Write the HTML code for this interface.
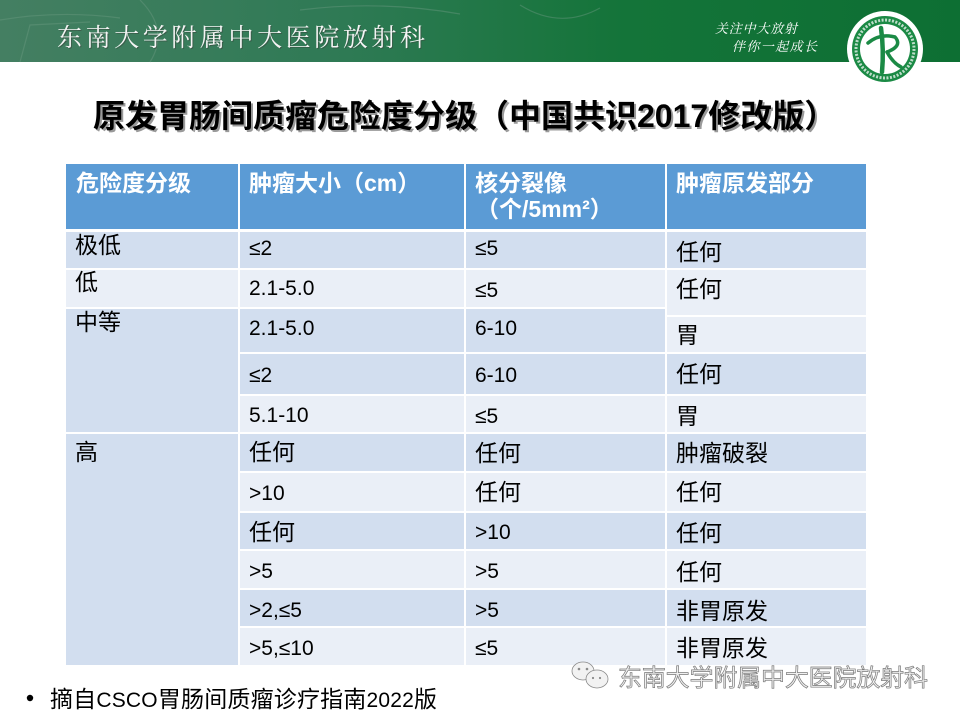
<!DOCTYPE html>
<html><head><meta charset="utf-8"><style>
html,body{margin:0;padding:0;background:#fff;}
svg{display:block;}
text{font-family:"Liberation Sans","Noto Sans CJK SC",sans-serif;}
.cj{font-size:23px;fill:#000;}
.la{font-size:21px;fill:#000;}
.hd{font-size:23px;font-weight:700;fill:#fff;}
</style></head><body>
<svg width="960" height="720" viewBox="0 0 960 720" xmlns="http://www.w3.org/2000/svg">
<defs>
<linearGradient id="gb" x1="0" y1="0" x2="1" y2="0">
<stop offset="0" stop-color="#447f62"/>
<stop offset="0.35" stop-color="#2f7a55"/>
<stop offset="0.65" stop-color="#147439"/>
<stop offset="1" stop-color="#0d6f33"/>
</linearGradient>
</defs>
<rect x="0" y="0" width="960" height="720" fill="#fff"/>
<!-- banner -->
<rect x="0" y="0" width="960" height="62" fill="url(#gb)"/>
<g stroke="#6a9a80" stroke-width="1.2" fill="none" opacity="0.45">
<path d="M0,20 Q60,10 120,18"/><path d="M20,62 L30,25 L90,22"/><path d="M140,0 Q170,30 150,62"/>
<path d="M300,10 Q380,0 460,14"/><path d="M520,5 Q560,30 600,8"/>
</g>
<text x="58" y="47" font-size="25" textLength="368" lengthAdjust="spacing" fill="#3a4a40" opacity="0.6" style="font-family:'Noto Serif CJK SC','Liberation Serif',serif">东南大学附属中大医院放射科</text>
<text x="57" y="46" font-size="25" textLength="368" lengthAdjust="spacing" fill="#f4f4f4" style="font-family:'Noto Serif CJK SC','Liberation Serif',serif">东南大学附属中大医院放射科</text>
<text x="715" y="33" font-size="13" textLength="82" lengthAdjust="spacing" fill="#fff" font-style="italic" style="font-family:'Noto Serif CJK SC',serif">关注中大放射</text>
<text x="732" y="51" font-size="13" textLength="85" lengthAdjust="spacing" fill="#fff" font-style="italic" style="font-family:'Noto Serif CJK SC',serif">伴你一起成长</text>
<!-- logo -->
<circle cx="885" cy="49" r="38" fill="#fff"/>
<circle cx="885" cy="49" r="33" fill="#1b8a45"/>
<circle cx="885" cy="49" r="29" fill="none" stroke="#e8f3ec" stroke-width="3" stroke-dasharray="2 1.5" opacity="0.8"/>
<circle cx="885" cy="49" r="25" fill="#fff"/>
<g fill="none" stroke="#1b8a45" stroke-linecap="round">
<path d="M881,28 Q884,50 882,72" stroke-width="4.5"/>
<path d="M868,43 Q880,33 895,37 Q903,46 887,52" stroke-width="3.5"/>
<path d="M887,52 Q893,63 901,67" stroke-width="3.5"/>
</g>
<!-- title -->
<text x="95" y="129" font-size="32" font-weight="700" fill="#9a9a9a">原发胃肠间质瘤危险度分级（中国共识2017修改版）</text>
<text x="93" y="127" font-size="32" font-weight="700" fill="#000">原发胃肠间质瘤危险度分级（中国共识2017修改版）</text>
<!-- table -->
<rect x="66" y="164" width="800" height="501" fill="#fff"/>
<g fill="#5B9BD5">
<rect x="66" y="164" width="172" height="65"/>
<rect x="240" y="164" width="224" height="65"/>
<rect x="466" y="164" width="199" height="65"/>
<rect x="667" y="164" width="199" height="65"/>
</g>
<!-- col1 -->
<rect x="66" y="232" width="172" height="36" fill="#D2DEEF"/>
<rect x="66" y="270" width="172" height="37" fill="#EAEFF7"/>
<rect x="66" y="309" width="172" height="123" fill="#D2DEEF"/>
<rect x="66" y="434" width="172" height="231" fill="#D2DEEF"/>
<!-- col2 & col3 rows -->
<g>
<rect x="240" y="232" width="224" height="36" fill="#D2DEEF"/><rect x="466" y="232" width="199" height="36" fill="#D2DEEF"/>
<rect x="240" y="270" width="224" height="37" fill="#EAEFF7"/><rect x="466" y="270" width="199" height="37" fill="#EAEFF7"/>
<rect x="240" y="309" width="224" height="43" fill="#D2DEEF"/><rect x="466" y="309" width="199" height="43" fill="#D2DEEF"/>
<rect x="240" y="354" width="224" height="40" fill="#D2DEEF"/><rect x="466" y="354" width="199" height="40" fill="#D2DEEF"/>
<rect x="240" y="396" width="224" height="36" fill="#EAEFF7"/><rect x="466" y="396" width="199" height="36" fill="#EAEFF7"/>
<rect x="240" y="434" width="224" height="37" fill="#D2DEEF"/><rect x="466" y="434" width="199" height="37" fill="#D2DEEF"/>
<rect x="240" y="473" width="224" height="38" fill="#EAEFF7"/><rect x="466" y="473" width="199" height="38" fill="#EAEFF7"/>
<rect x="240" y="513" width="224" height="36" fill="#D2DEEF"/><rect x="466" y="513" width="199" height="36" fill="#D2DEEF"/>
<rect x="240" y="551" width="224" height="37" fill="#EAEFF7"/><rect x="466" y="551" width="199" height="37" fill="#EAEFF7"/>
<rect x="240" y="590" width="224" height="36" fill="#D2DEEF"/><rect x="466" y="590" width="199" height="36" fill="#D2DEEF"/>
<rect x="240" y="628" width="224" height="37" fill="#EAEFF7"/><rect x="466" y="628" width="199" height="37" fill="#EAEFF7"/>
</g>
<!-- col4 -->
<g>
<rect x="667" y="232" width="199" height="36" fill="#D2DEEF"/>
<rect x="667" y="270" width="199" height="45" fill="#EAEFF7"/>
<rect x="667" y="317" width="199" height="35" fill="#EAEFF7"/>
<rect x="667" y="354" width="199" height="40" fill="#D2DEEF"/>
<rect x="667" y="396" width="199" height="36" fill="#EAEFF7"/>
<rect x="667" y="434" width="199" height="37" fill="#D2DEEF"/>
<rect x="667" y="473" width="199" height="38" fill="#EAEFF7"/>
<rect x="667" y="513" width="199" height="36" fill="#D2DEEF"/>
<rect x="667" y="551" width="199" height="37" fill="#EAEFF7"/>
<rect x="667" y="590" width="199" height="36" fill="#D2DEEF"/>
<rect x="667" y="628" width="199" height="37" fill="#EAEFF7"/>
</g>
<!-- header text -->
<text class="hd" x="76" y="191">危险度分级</text>
<text class="hd" x="249" y="191">肿瘤大小（cm）</text>
<text class="hd" x="475" y="191">核分裂像</text>
<text class="hd" x="476" y="217">（个/5mm²）</text>
<text class="hd" x="676" y="191">肿瘤原发部分</text>
<!-- col1 text -->
<text class="cj" x="75" y="253">极低</text>
<text class="cj" x="75" y="290">低</text>
<text class="cj" x="75" y="330">中等</text>
<text class="cj" x="75" y="460">高</text>
<!-- col2 text -->
<text class="la" x="249" y="255">≤2</text>
<text class="la" x="249" y="295">2.1-5.0</text>
<text class="la" x="249" y="335">2.1-5.0</text>
<text class="la" x="249" y="382">≤2</text>
<text class="la" x="249" y="422">5.1-10</text>
<text class="cj" x="249" y="460">任何</text>
<text class="la" x="249" y="500">&gt;10</text>
<text class="cj" x="249" y="540">任何</text>
<text class="la" x="249" y="578">&gt;5</text>
<text class="la" x="249" y="617">&gt;2,≤5</text>
<text class="la" x="249" y="655">&gt;5,≤10</text>
<!-- col3 text -->
<text class="la" x="475" y="255">≤5</text>
<text class="la" x="475" y="297">≤5</text>
<text class="la" x="475" y="335">6-10</text>
<text class="la" x="475" y="382">6-10</text>
<text class="la" x="475" y="423">≤5</text>
<text class="cj" x="475" y="461">任何</text>
<text class="cj" x="475" y="500">任何</text>
<text class="la" x="475" y="539">&gt;10</text>
<text class="la" x="475" y="578">&gt;5</text>
<text class="la" x="475" y="617">&gt;5</text>
<text class="la" x="475" y="655">≤5</text>
<!-- col4 text -->
<text class="cj" x="676" y="260">任何</text>
<text class="cj" x="676" y="297">任何</text>
<text class="cj" x="676" y="343">胃</text>
<text class="cj" x="676" y="382">任何</text>
<text class="cj" x="676" y="424">胃</text>
<text class="cj" x="676" y="461">肿瘤破裂</text>
<text class="cj" x="676" y="500">任何</text>
<text class="cj" x="676" y="541">任何</text>
<text class="cj" x="676" y="580">任何</text>
<text class="cj" x="676" y="619">非胃原发</text>
<text class="cj" x="676" y="656">非胃原发</text>
<!-- footer -->
<circle cx="30" cy="698" r="3.2" fill="#000"/>
<text x="50" y="707" font-size="23" textLength="387" lengthAdjust="spacing" fill="#000">摘自<tspan font-size="21">CSCO</tspan>胃肠间质瘤诊疗指南<tspan font-size="21">2022</tspan>版</text>
<!-- watermark -->
<g fill="#f2f2f2" stroke="#8a8a8a" stroke-width="0.8">
<ellipse cx="583" cy="671" rx="11" ry="9"/>
<ellipse cx="597" cy="679" rx="11" ry="9"/>
</g>
<g fill="#8a8a8a">
<circle cx="579" cy="669" r="1.3"/><circle cx="587" cy="669" r="1.3"/>
<circle cx="593" cy="678" r="1.1"/><circle cx="600" cy="678" r="1.1"/>
</g>
<text x="618" y="686" font-size="24" textLength="310" lengthAdjust="spacing" fill="#f0f0f0" stroke="#7a7a7a" stroke-width="0.7">东南大学附属中大医院放射科</text>
</svg>
</body></html>
